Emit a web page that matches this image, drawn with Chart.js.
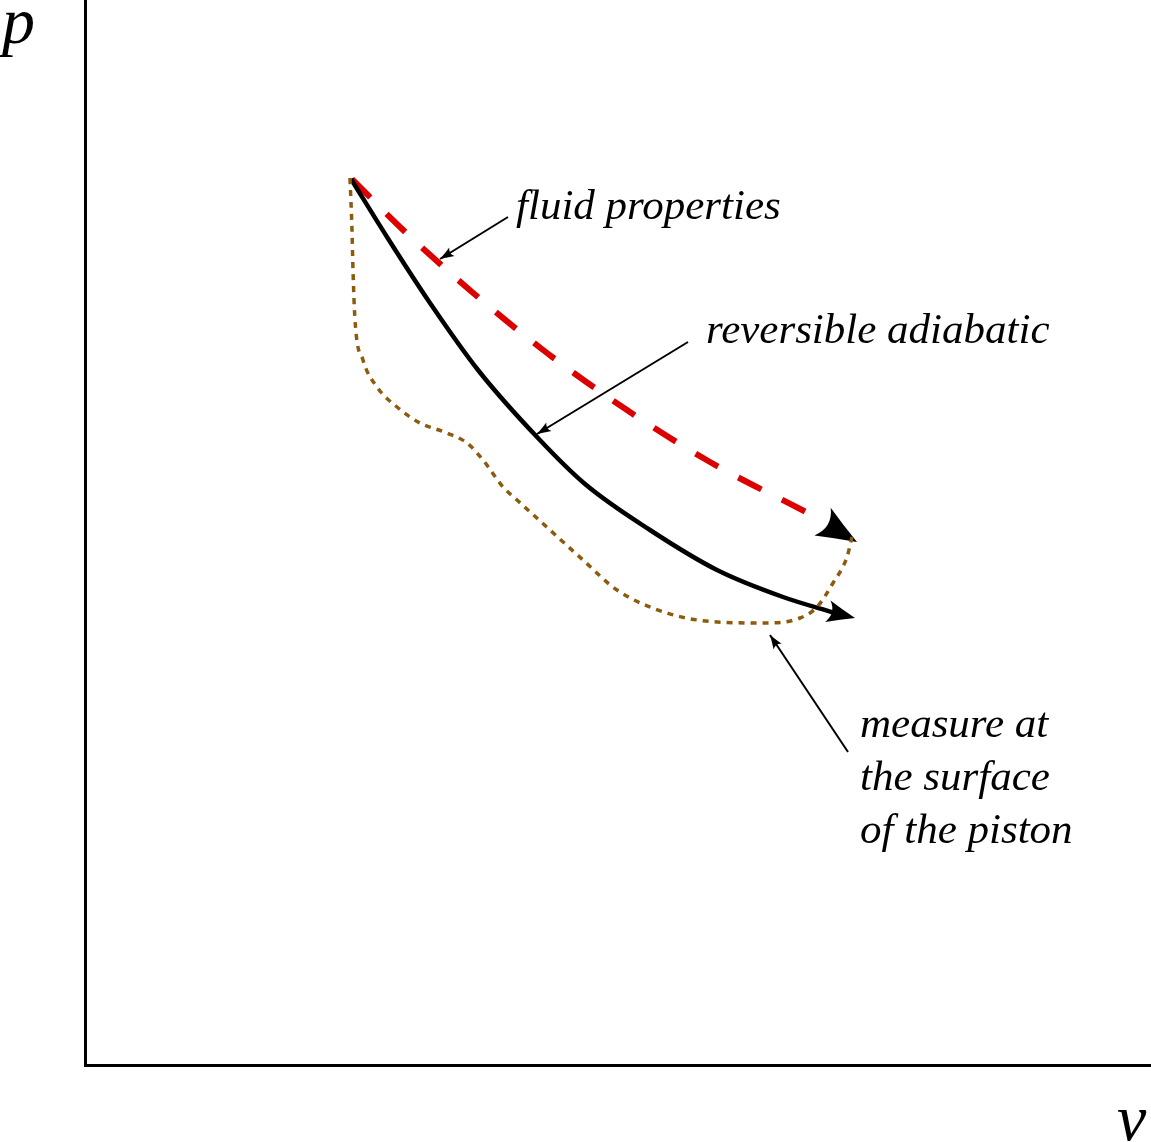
<!DOCTYPE html>
<html>
<head>
<meta charset="utf-8">
<title>p-v diagram</title>
<script src="https://cdn.jsdelivr.net/npm/chart.js@4.4.1/dist/chart.umd.min.js"></script>
<style>
  html, body { margin: 0; padding: 0; background: #fff; overflow: hidden; }
  #wrap { width: 1151px; height: 1142px; }
</style>
</head>
<body>
<div id="wrap"><canvas id="myChart"></canvas></div>
<script>
// drawing units: v and p measured from the axes corner
const V_MAX = 1066;
const P_MAX = 1065;

// reversible adiabatic (solid black)
const adiabaticV = [266, 302, 345, 393, 452, 500, 565, 632, 698, 750];
const adiabaticP = [886, 828, 762, 695, 628, 581, 535, 495, 468, 452];
const adiabaticTip = [770, 447];

// fluid properties (red dashed)
const fluidV = [267, 315, 387, 462, 542, 625, 723];
const fluidP = [886, 838, 773, 712, 655, 603, 552];
const fluidTip = [772, 523];

// measured at the surface of the piston (brown dotted)
const pistonV = [265, 267, 268, 270, 278, 292, 312, 335, 362, 382, 398, 418, 432, 465, 498, 532, 582, 632, 682, 715, 732, 748, 762, 767];
const pistonP = [887, 835, 795, 745, 705, 678, 658, 642, 632, 622, 605, 578, 565, 535, 505, 475, 452, 443, 442, 447, 458, 482, 508, 528];

// callouts
const calloutText = [["fluid properties"], ["reversible adiabatic"], ["measure at", "the surface", "of the piston"]];
const calloutFromV = [423, 603, 763];
const calloutFromP = [848, 723, 313];
const calloutToV = [355, 452, 685];
const calloutToP = [806, 631, 430];
const calloutTextV = [431, 621, 775];
const calloutTextP = [846, 722, 328];

const axisNames = ["p", "v"];

const zip = (xs, ys) => xs.map((x, i) => ({ x: x, y: ys[i] }));

// double quotes: the single-quoted family name was not picked up
const TEXT_FONT = "italic 43px \"Liberation Serif\"";
const AXIS_FONT = "italic 66px \"Liberation Serif\"";
const LINE_GAP = 53;

function drawHead(ctx, x0, y0, x1, y1, len, half) {
  const a = Math.atan2(y1 - y0, x1 - x0);
  ctx.save();
  ctx.translate(x1, y1);
  ctx.rotate(a);
  ctx.beginPath();
  ctx.moveTo(0, 0);
  ctx.quadraticCurveTo(-len * 0.5, -half * 0.45, -len, -half);
  ctx.quadraticCurveTo(-len * 0.7, 0, -len, half);
  ctx.quadraticCurveTo(-len * 0.5, half * 0.45, 0, 0);
  ctx.closePath();
  ctx.fillStyle = "#000";
  ctx.fill();
  ctx.restore();
}

const arrowPlugin = {
  id: "arrowheads",
  afterDatasetDraw(chart, args) {
    const ds = chart.data.datasets[args.index];
    if (!ds.head) return;
    const xs = chart.scales.x, ys = chart.scales.y;
    const pts = ds.data;
    const tip = ds.head.tip || pts[pts.length - 1];
    const base = ds.head.tip ? pts[pts.length - 1] : pts[0];
    drawHead(chart.ctx,
      xs.getPixelForValue(base.x), ys.getPixelForValue(base.y),
      xs.getPixelForValue(tip.x), ys.getPixelForValue(tip.y),
      ds.head.len, ds.head.half);
  },
};

const textPlugin = {
  id: "texts",
  afterDraw(chart) {
    const ctx = chart.ctx, xs = chart.scales.x, ys = chart.scales.y;
    const area = chart.chartArea;
    ctx.save();
    ctx.fillStyle = "#000";
    ctx.textBaseline = "alphabetic";
    ctx.textAlign = "left";
    ctx.font = TEXT_FONT;
    calloutText.forEach((lines, i) => {
      const x = xs.getPixelForValue(calloutTextV[i]);
      const y = ys.getPixelForValue(calloutTextP[i]);
      lines.forEach((t, j) => ctx.fillText(t, x, y + j * LINE_GAP));
    });
    ctx.font = AXIS_FONT;
    ctx.fillText(axisNames[0], area.left - 83, area.top + 43);
    ctx.fillText(axisNames[1], area.right - 34, area.bottom + 75);
    ctx.restore();
  },
};

const calloutSets = calloutText.map((t, i) => ({
  label: t.join(" "),
  data: [{ x: calloutFromV[i], y: calloutFromP[i] }, { x: calloutToV[i], y: calloutToP[i] }],
  borderColor: "#000",
  borderWidth: 2,
  tension: 0,
  order: 3,
  head: { len: 14, half: 5 },
}));

const ctx = document.getElementById("myChart").getContext("2d");
const myChart = new Chart(ctx, {
  type: "scatter",
  data: {
    datasets: [
      {
        label: "measure at the surface of the piston",
        data: zip(pistonV, pistonP),
        borderColor: "rgb(140, 92, 14)",
        borderWidth: 3.5,
        borderDash: [6, 6],
        cubicInterpolationMode: "monotone",
        order: 0,
      },
      {
        label: "reversible adiabatic",
        data: zip(adiabaticV, adiabaticP),
        borderColor: "#000",
        borderWidth: 4.5,
        cubicInterpolationMode: "monotone",
        order: 1,
        head: { tip: { x: adiabaticTip[0], y: adiabaticTip[1] }, len: 28, half: 11 },
      },
      {
        label: "fluid properties",
        data: zip(fluidV, fluidP),
        borderColor: "rgb(220, 0, 0)",
        borderWidth: 6,
        borderDash: [26, 23],
        cubicInterpolationMode: "monotone",
        order: 2,
        head: { tip: { x: fluidTip[0], y: fluidTip[1] }, len: 40, half: 16 },
      },
      ...calloutSets,
    ],
  },
  options: {
    responsive: true,
    maintainAspectRatio: false,
    devicePixelRatio: 1,
    animation: false,
    showLine: true,
    elements: { point: { radius: 0, hoverRadius: 0 } },
    layout: { padding: { left: 85, right: 0, top: 0, bottom: 77 } },
    plugins: { legend: { display: false }, tooltip: { enabled: false } },
    scales: {
      x: {
        type: "linear", min: 0, max: V_MAX,
        grid: { display: false, drawTicks: false },
        border: { display: true, color: "#000", width: 3 },
        ticks: { display: false },
      },
      y: {
        type: "linear", min: 0, max: P_MAX,
        grid: { display: false, drawTicks: false },
        border: { display: true, color: "#000", width: 3 },
        ticks: { display: false },
      },
    },
  },
  plugins: [arrowPlugin, textPlugin],
});
</script>
</body>
</html>
